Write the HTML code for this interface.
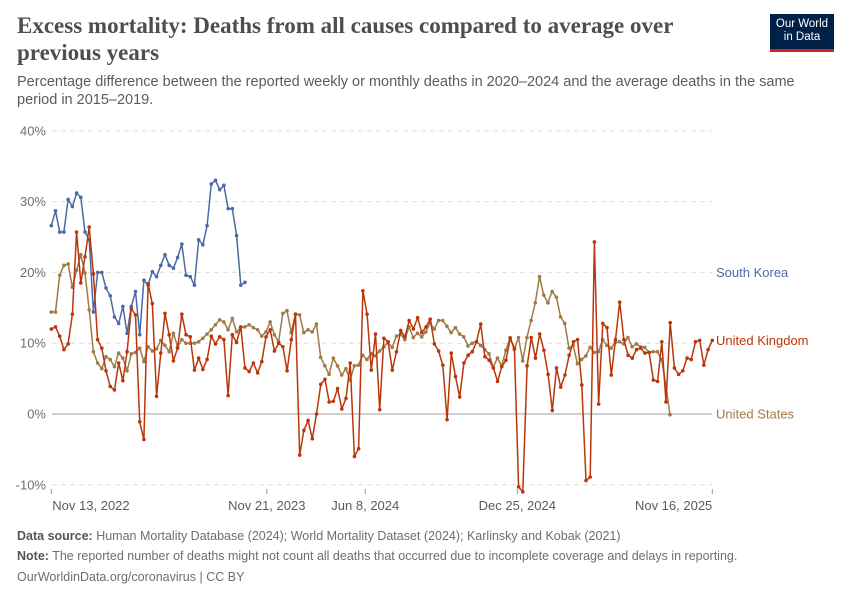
<!DOCTYPE html>
<html><head><meta charset="utf-8">
<style>
body{margin:0;background:#fff;font-family:"Liberation Sans",sans-serif;}
#wrap{position:relative;width:850px;height:600px;overflow:hidden;}
h1{position:absolute;left:17px;top:12px;margin:0;width:720px;font-family:"Liberation Serif",serif;font-weight:bold;font-size:23px;line-height:27px;color:#4e4e4e;}
#sub{position:absolute;left:17px;top:73px;width:800px;font-size:14.5px;line-height:18px;color:#5b5b5b;}
#logo{position:absolute;left:770px;top:14px;width:64px;height:38px;background:#002147;color:#fff;font-size:11.5px;line-height:13px;text-align:center;padding-top:4px;box-sizing:border-box;border-bottom:3px solid #ce261e;}
.foot{position:absolute;left:17px;font-size:12.5px;color:#6e6e6e;}
.foot b{color:#555;}
</style></head><body>
<div id="wrap">
<h1>Excess mortality: Deaths from all causes compared to average over previous years</h1>
<div id="logo">Our World<br>in Data</div>
<div id="sub">Percentage difference between the reported weekly or monthly deaths in 2020–2024 and the average deaths in the same period in 2015–2019.</div>
<svg id="chart" width="850" height="600" style="position:absolute;left:0;top:0"></svg>
<div class="foot" style="top:529px"><b>Data source:</b> Human Mortality Database (2024); World Mortality Dataset (2024); Karlinsky and Kobak (2021)</div>
<div class="foot" style="top:549px"><b>Note:</b> The reported number of deaths might not count all deaths that occurred due to incomplete coverage and delays in reporting.</div>
<div class="foot" style="top:570px">OurWorldinData.org/coronavirus | CC BY</div>
</div>
<script>
const yTicks=[-10,0,10,20,30,40];
const xTickLabels=["Nov 13, 2022","Nov 21, 2023","Jun 8, 2024","Dec 25, 2024","Nov 16, 2025"];
const xTickFrac=[0,0.326,0.475,0.705,1];
const southKorea=[26.6,28.7,25.7,25.7,30.3,29.3,31.2,30.6,25.7,24.6,14.4,20.0,20.0,17.8,16.7,13.7,12.8,15.2,11.4,15.2,17.3,11.2,18.9,18.2,20.1,19.4,21.0,22.5,21.0,20.6,22.1,24.0,19.6,19.4,18.2,24.6,23.9,26.6,32.5,33.0,31.7,32.3,29.0,29.0,25.2,18.2,18.6];
const unitedKingdom=[12.0,12.3,11.0,9.1,9.9,14.1,25.7,18.5,22.2,26.4,19.8,10.5,9.3,6.1,3.9,3.4,7.2,4.7,8.8,14.9,14.0,-1.1,-3.6,18.4,15.6,2.5,
8.6,14.2,11.2,7.5,9.3,14.1,11.2,10.9,6.2,7.9,6.3,7.7,11.0,9.9,10.9,10.5,2.6,11.2,10.1,12.3,6.5,6.0,7.2,5.8,7.4,10.9,
11.9,8.9,10.0,9.5,6.1,10.5,14.1,-5.8,-2.3,-0.9,-3.5,0.0,4.2,4.9,1.7,1.8,3.6,0.7,2.2,7.2,-6.0,-4.9,17.4,14.1,6.2,11.3,0.6,10.7,10.2,6.2,8.8,11.8,10.9,13.2,12.0,13.6,11.5,12.3,13.4,9.9,8.9,6.9,-0.8,8.6,5.3,2.4,7.2,8.3,8.8,10.2,12.7,8.1,7.6,6.5,4.6,
6.7,7.6,10.7,9.3,-10.3,-11.0,6.8,10.8,7.9,11.3,9.0,5.6,0.5,6.5,3.8,5.5,8.3,10.2,10.5,4.1,-9.4,-8.9,24.3,1.4,12.8,12.2,5.5,10.5,15.8,10.5,8.3,7.9,9.1,9.3,8.6,8.7,4.8,4.6,10.2,1.7,12.9,6.5,5.6,6.1,7.9,7.7,10.2,10.4,6.9,9.1,10.4];
const unitedStates=[14.4,14.4,19.6,21.0,21.2,17.9,20.3,22.5,19.9,14.7,8.8,7.2,6.4,8.1,7.7,6.7,8.6,7.9,6.1,8.5,8.7,9.3,7.4,9.5,8.9,9.2,10.4,
9.7,8.8,11.4,9.5,10.5,10.0,10.0,10.0,10.2,10.7,11.3,11.9,12.6,13.3,13.0,11.9,13.5,11.6,12.2,12.3,12.6,12.2,11.9,11.0,11.6,
13.0,11.2,10.2,14.2,14.6,11.5,14.1,14.0,11.5,11.9,11.6,12.7,8.0,6.8,5.6,7.9,6.8,5.5,6.4,4.8,6.8,6.9,8.3,7.7,8.5,8.2,8.9,9.5,10.1,9.4,11.0,11.3,10.5,12.3,10.8,11.4,10.9,11.6,12.9,12.0,13.2,13.2,12.4,11.5,12.2,11.3,10.9,9.6,10.0,10.2,9.7,9.1,8.5,6.6,7.9,
6.8,9.0,10.8,9.1,10.8,7.5,10.8,13.2,15.7,19.4,16.8,15.7,17.3,16.5,13.7,12.8,9.3,9.7,7.1,7.7,8.2,9.4,8.7,8.8,10.5,9.7,9.3,10.1,10.2,9.9,10.8,9.5,9.9,9.5,9.4,8.7,8.8,8.8,7.7,4.1,-0.1];
const seriesNames=["South Korea","United Kingdom","United States"];
const seriesColors=["#4a6aa5","#b9360b","#a07a48"];
const seriesData=[southKorea,unitedKingdom,unitedStates];
const seriesEndFrac=[0.293,1,0.936];
const labelValues=[20.0,10.4,0];

const NS="http://www.w3.org/2000/svg";
const svg=document.getElementById('chart');
const X0=51.3,X1=712.3;
const xf=f=>X0+f*(X1-X0);
const ys=v=>414-v*7.08;
function mk(t,a){const e=document.createElementNS(NS,t);for(const k in a)e.setAttribute(k,a[k]);svg.appendChild(e);return e;}
yTicks.forEach(v=>{
  const l=mk('line',{x1:52,x2:712,y1:ys(v),y2:ys(v),stroke:v===0?'#a0a0a0':'#dddddd','stroke-dasharray':v===0?'':'5,4'});
  
  
  const t=mk('text',{x:46,y:ys(v)+4.5,'text-anchor':'end','font-size':13,fill:'#6e6e6e','font-family':'Liberation Sans, sans-serif'});
  t.textContent=v+'%';
  
  
});
xTickFrac.forEach((f,i)=>{
  const x=xf(f);
  const tk=mk('line',{x1:x,x2:x,y1:489,y2:494,stroke:'#999'});
  
  
  const anchor=i===0?'start':(i===xTickFrac.length-1?'end':'middle');
  const t=mk('text',{x:i===0?x+1:x,y:510,'text-anchor':anchor,'font-size':13,fill:'#5b5b5b','font-family':'Liberation Sans, sans-serif'});
  t.textContent=xTickLabels[i];
  
  
});
[2,0,1].forEach(s=>{
  const d=seriesData[s];
  const step=seriesEndFrac[s]/(d.length-1);
  const xs=i=>xf(i*step);
  const pts=d.map((v,i)=>xs(i).toFixed(1)+','+ys(v).toFixed(1)).join(' ');
  const pl=mk('polyline',{points:pts,fill:'none',stroke:seriesColors[s],'stroke-width':1.5,'stroke-linejoin':'round'});
  
  
  d.forEach((v,i)=>{
    const c=mk('circle',{cx:xs(i),cy:ys(v),r:1.8,fill:seriesColors[s]});
    
    
  });
});
seriesNames.forEach((n,s)=>{
  const t=mk('text',{x:716,y:ys(labelValues[s])+4.5,'font-size':13,fill:seriesColors[s],'font-family':'Liberation Sans, sans-serif'});
  t.textContent=n;
  
  
});
</script>
</body></html>
